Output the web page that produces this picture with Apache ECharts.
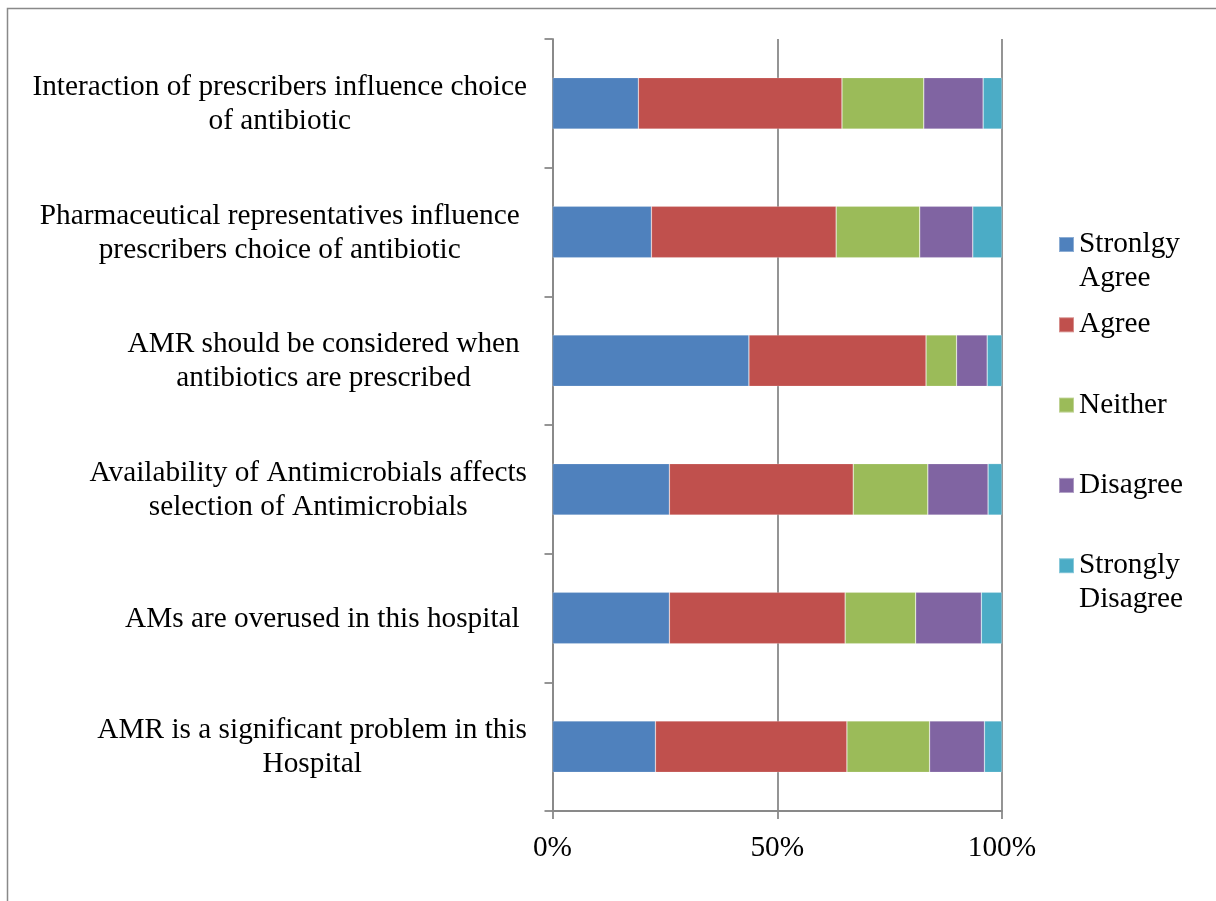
<!DOCTYPE html>
<html>
<head>
<meta charset="utf-8">
<script src="https://cdn.jsdelivr.net/npm/echarts@6/dist/echarts.min.js"></script>
<style>
html,body{margin:0;padding:0;background:#fff;}
#chart{width:1216px;height:901px;}
</style>
</head>
<body>
<div id="chart"></div>
<script>
// Categories, top to bottom
const categories = [
  "Interaction of prescribers influence choice\nof antibiotic",
  "Pharmaceutical representatives influence \nprescribers choice of antibiotic ",
  "AMR should be considered when \nantibiotics are prescribed ",
  "Availability of Antimicrobials affects\nselection of Antimicrobials",
  "AMs are overused in this hospital ",
  "AMR is a significant problem in this\nHospital"
];
const seriesNames = ["Stronlgy\nAgree", "Agree", "Neither", "Disagree", "Strongly\nDisagree"];
// Percent values per category (same order as categories)
const stronglyAgree    = [19.1, 22.0, 43.7, 26.0, 26.0, 22.9];
const agree            = [45.3, 41.1, 39.4, 40.9, 39.1, 42.6];
const neither          = [18.2, 18.6,  6.8, 16.6, 15.7, 18.4];
const disagree         = [13.2, 11.8,  6.8, 13.4, 14.6, 12.2];
const stronglyDisagree = [ 4.2,  6.5,  3.3,  3.1,  4.6,  3.9];
const xTicks = [0, 50, 100];

const colors = ["#4F81BD", "#C0504D", "#9BBB59", "#8064A2", "#4BACC6"];
const values = [stronglyAgree, agree, neither, disagree, stronglyDisagree];
const FONT = "'Liberation Serif', 'Times New Roman', serif";
const GRAY = "#898989";

const chart = echarts.init(document.getElementById('chart'));
chart.setOption({
  animation: false,
  backgroundColor: '#fff',
  color: colors,
  graphic: [{
    type: 'polyline',
    shape: { points: [[7.5, 905], [7.5, 8.5], [1220, 8.5]] },
    style: { stroke: GRAY, lineWidth: 1.5, fill: null },
    silent: true
  }],
  grid: { left: 552.5, right: 214, top: 39, bottom: 90, containLabel: false },
  legend: {
    orient: 'vertical',
    left: 1058,
    top: 193.5,
    padding: 0,
    itemGap: -21.7,
    itemWidth: 15,
    itemHeight: 15,
    icon: 'rect',
    selectedMode: false,
    data: seriesNames,
    formatter: function (name) {
      const lines = name.split('\n');
      return lines.length > 1 ? '\n' + name : '\n' + name + '\n';
    },
    textStyle: { fontFamily: FONT, fontSize: 29.3, lineHeight: 34, color: '#000' }
  },
  xAxis: {
    type: 'value',
    min: 0, max: 100, interval: 50,
    axisLine: { show: true, lineStyle: { color: GRAY, width: 1.8 } },
    axisTick: { show: true, length: 8, lineStyle: { color: GRAY, width: 1.8 } },
    splitLine: { show: true, lineStyle: { color: GRAY, width: 1.8 } },
    axisLabel: {
      margin: 20,
      fontFamily: FONT, fontSize: 29.3, lineHeight: 34, color: '#000',
      formatter: function (v) { return xTicks.indexOf(v) >= 0 ? v + '%' : ''; }
    }
  },
  yAxis: {
    type: 'category',
    inverse: true,
    data: categories,
    axisLine: { show: true, lineStyle: { color: GRAY, width: 1.8 } },
    axisTick: { show: true, length: 8, alignWithLabel: false, lineStyle: { color: GRAY, width: 1.8 } },
    splitLine: { show: false },
    axisLabel: {
      interval: 0,
      margin: 25.5,
      align: 'right',
      formatter: function (v) {
        return v.split('\n').map(function (s) { return '{c|' + s + '}'; }).join('\n');
      },
      rich: {
        c: { align: 'center', fontFamily: FONT, fontSize: 29.3, lineHeight: 34, color: '#000', padding: [2, 0, 0, 0] }
      }
    }
  },
  series: seriesNames.map(function (n, i) {
    return {
      name: n,
      type: 'bar',
      stack: 'total',
      barWidth: '40%',
      data: values[i],
      itemStyle: { color: colors[i], borderColor: 'rgba(255,255,255,0.35)', borderWidth: 0.6 }
    };
  })
});
</script>
</body>
</html>
